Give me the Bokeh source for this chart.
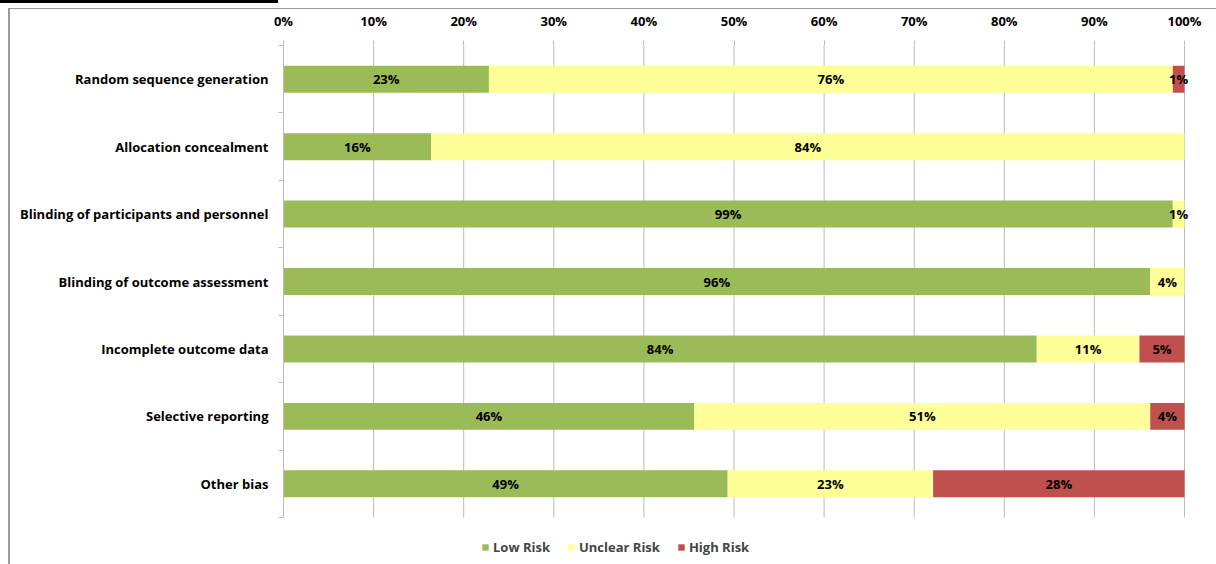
from bokeh.plotting import figure
from bokeh.models import (Range1d, LinearAxis, FixedTicker, Legend, LegendItem,
                          ColumnDataSource, InlineStyleSheet)
from bokeh.core.properties import value
from bokeh.embed import file_html
from bokeh.resources import INLINE

categories = ["Random sequence generation", "Allocation concealment",
              "Blinding of participants and personnel", "Blinding of outcome assessment",
              "Incomplete outcome data", "Selective reporting", "Other bias"]
low = [22.8, 16.4, 98.7, 96.2, 83.6, 45.6, 49.3]
unclear = [75.9, 83.6, 1.3, 3.8, 11.4, 50.6, 22.8]
high = [1.3, 0.0, 0.0, 0.0, 5.0, 3.8, 27.9]
series_names = ["Low Risk", "Unclear Risk", "High Risk"]
colors = ["#9BBB59", "#FFFF99", "#C0504D"]
x_ticks = [0, 10, 20, 30, 40, 50, 60, 70, 80, 90, 100]
x_tick_labels = ["0%", "10%", "20%", "30%", "40%", "50%", "60%", "70%", "80%", "90%", "100%"]

FONT = "Open Sans"
FS = "13px"
n = len(categories)
ys = [i + 0.5 for i in range(n)]

# layout constants (pixels)
W, H = 1216, 564
TOP, LEFT = 45, 283
PX_PER_UNIT = 9.01          # pixels per percentage point
BAND_PX = 67.43             # pixels per category band
x_extent = (W - LEFT) / PX_PER_UNIT
y_extent = (H - TOP) / BAND_PX

src = ColumnDataSource(dict(y=ys, low=low, unclear=unclear, high=high))

css = """
:host { position: relative; }
:host::before { content: ""; position: absolute; left: 0; top: 0; width: 278px; height: 3px;
                background: black; z-index: 10; pointer-events: none; }
:host::after { content: ""; position: absolute; left: 8px; top: 8px; right: -4px; bottom: -4px;
               border-top: 1px solid #9a9a9a; border-left: 2px solid #9a9a9a;
               z-index: 10; pointer-events: none; }
"""

p = figure(width=W, height=H, output_backend="svg", toolbar_location=None,
           x_range=Range1d(0, x_extent), y_range=Range1d(y_extent, 0),
           x_axis_location=None, y_axis_location=None,
           min_border_left=LEFT, min_border_right=0, min_border_top=TOP, min_border_bottom=0,
           stylesheets=[InlineStyleSheet(css=css)])
p.outline_line_color = None
p.background_fill_color = "white"
p.border_fill_color = "white"
for g in p.grid:
    g.visible = False

GRID = "#BBBBBB"
# vertical gridlines spanning the category bands only
p.segment(x0=x_ticks, y0=[0] * len(x_ticks), x1=x_ticks, y1=[n] * len(x_ticks),
          line_color=GRID, line_width=1)

renderers = p.hbar_stack(["low", "unclear", "high"], y="y", height=0.4, color=colors,
                         line_color=None, source=src)

# data labels
lx, ly, lt = [], [], []
for i in range(n):
    start = 0.0
    for vals in (low, unclear, high):
        v = vals[i]
        if v > 0:
            lx.append(start + v / 2)
            ly.append(ys[i])
            lt.append("%.0f%%" % v)
        start += v
p.text(x=lx, y=ly, text=lt, text_align="center", text_baseline="middle",
       text_font=value(FONT), text_font_style="bold", text_font_size=FS, text_color="black")

# top axis
xax = LinearAxis(ticker=FixedTicker(ticks=x_ticks),
                 major_label_overrides={t: l for t, l in zip(x_ticks, x_tick_labels)})
xax.axis_line_color = None
xax.major_tick_line_color = GRID
xax.major_tick_out = 5
xax.major_tick_in = 0
xax.minor_tick_line_color = None
xax.major_label_standoff = 11
xax.major_label_text_font = FONT
xax.major_label_text_font_style = "bold"
xax.major_label_text_font_size = FS
xax.major_label_text_color = "black"
p.add_layout(xax, "above")

# left axis: boundary ticks
yax1 = LinearAxis(ticker=FixedTicker(ticks=list(range(n + 1))),
                  major_label_overrides={i: "" for i in range(n + 1)}, bounds=(0, n))
yax1.axis_line_color = GRID
yax1.major_tick_line_color = GRID
yax1.major_tick_out = 5
yax1.major_tick_in = 0
yax1.minor_tick_line_color = None
yax1.major_label_text_font_size = "1px"
yax1.major_label_standoff = 0
p.add_layout(yax1, "left")

# left axis: category labels
yax2 = LinearAxis(ticker=FixedTicker(ticks=ys),
                  major_label_overrides={y: c for y, c in zip(ys, categories)})
yax2.axis_line_color = None
yax2.major_tick_line_color = None
yax2.minor_tick_line_color = None
yax2.major_label_standoff = 4
yax2.major_label_text_font = FONT
yax2.major_label_text_font_style = "bold"
yax2.major_label_text_font_size = FS
yax2.major_label_text_color = "black"
p.add_layout(yax2, "left")

legend = Legend(items=[LegendItem(label=s, renderers=[r]) for s, r in zip(series_names, renderers)],
                orientation="horizontal", location=(198, 8),
                glyph_width=8, glyph_height=8, label_standoff=4, spacing=17,
                label_text_font=FONT, label_text_font_style="bold", label_text_font_size=FS,
                border_line_color=None, background_fill_alpha=0, padding=0, margin=0)
p.add_layout(legend, "center")

open("out.html", "w").write(file_html(p, INLINE))
